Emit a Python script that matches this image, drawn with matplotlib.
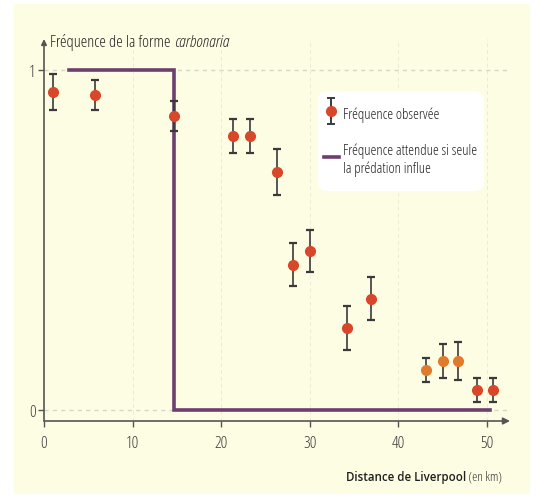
""" plot.py : frequence de la forme carbonaria selon la distance a Liverpool """

import matplotlib
matplotlib.use("Agg")
import matplotlib.pyplot as plt
from matplotlib import font_manager
from matplotlib.patches import Rectangle, FancyBboxPatch
from matplotlib.transforms import IdentityTransform
from matplotlib.lines import Line2D
from matplotlib.path import Path

# look for a narrow font, the original uses a condensed face
fonts = font_manager.fontManager.ttflist
narrow = None
for f in fonts:
    if f.name == 'Liberation Sans Narrow':
        narrow = (f.name, 'normal')
        break
if narrow is None:
    for fam in ['Roboto', 'Open Sans', 'Noto Sans', 'DejaVu Sans']:
        if any(f.name == fam and f.stretch in ('condensed', 'semi-condensed')
               for f in fonts):
            narrow = (fam, 'condensed')
            break

if narrow is not None:
    plt.rcParams['font.family'] = [narrow[0], 'DejaVu Sans']
    plt.rcParams['font.stretch'] = narrow[1]
    scale = 1.0
else:
    plt.rcParams['font.family'] = ['Roboto', 'DejaVu Sans']
    scale = 0.82
plt.rcParams['font.weight'] = 'medium'

distance_km = [1.0, 5.8, 14.7, 21.3, 23.3, 26.3, 28.1, 30.0, 34.2, 36.9,
               43.1, 45.0, 46.7, 48.9, 50.7]
freq_obs = [0.935, 0.926, 0.865, 0.806, 0.806, 0.70, 0.428, 0.468, 0.241,
            0.328, 0.118, 0.144, 0.144, 0.059, 0.059]
freq_err = [0.053, 0.044, 0.044, 0.05, 0.05, 0.069, 0.063, 0.062, 0.065,
            0.063, 0.035, 0.05, 0.056, 0.035, 0.035]
point_colors = ['#d8472a'] * 10 + ['#e27a2e'] * 3 + ['#d8472a'] * 2

# Expected frequency if only predation acts
expected_x = [2.8, 14.7, 14.7, 50.3]
expected_y = [1, 1, 0, 0]

x_ticks = [0, 10, 20, 30, 40, 50]
y_ticks = [0, 1]

legend_labels = ['Fréquence observée',
                 'Fréquence attendue si seule\nla prédation influe']

bg = '#fdfde3'
purple = '#6e3e70'
axis_col = '#555555'
bar_col = '#3a3a3a'
txt_col = '#262626'
W, H = 536, 502

fig = plt.figure(figsize=(W / 100, H / 100), dpi=100)
fig.patch.set_facecolor('white')
# yellow card behind the chart
fig.patches.append(Rectangle((14 / W, 1 - 495 / H), (530 - 14) / W, (495 - 5) / H,
                             transform=fig.transFigure, facecolor=bg,
                             edgecolor='none', zorder=-10))

ax = fig.add_axes([44 / W, 1 - 422 / H, (510 - 44) / W, (422 - 40) / H])
ax.set_zorder(1)
ax.set_facecolor('none')
ax.set_xlim(0, 52.6)
ax.set_ylim(-0.032, 1.091)
for s in ax.spines.values():
    s.set_visible(False)

# grid
for xv in x_ticks[1:]:
    ax.axvline(xv, color='#ececd4', lw=0.7, ls=(0, (4, 3)), zorder=1)
for yv in y_ticks:
    ax.axhline(yv, color='#d6d6c6', lw=1.0, ls=(0, (3, 3)), zorder=1)

# axes with arrows
ax.annotate('', xy=(1.0, 0), xytext=(0, 0), xycoords='axes fraction',
            arrowprops=dict(arrowstyle='-|>', color=axis_col, lw=1.2,
                            mutation_scale=10, shrinkA=0, shrinkB=0))
ax.annotate('', xy=(0, 1.0), xytext=(0, 0), xycoords='axes fraction',
            arrowprops=dict(arrowstyle='-|>', color=axis_col, lw=1.2,
                            mutation_scale=8, shrinkA=0, shrinkB=0))

ax.set_xticks(x_ticks)
ax.set_yticks(y_ticks)
ax.tick_params(axis='both', colors=axis_col, length=4, width=1,
               labelsize=12 * scale, labelcolor='#3a3a3a')
ax.tick_params(axis='x', pad=6)
ax.tick_params(axis='y', pad=2)

# expected line
line, = ax.plot(expected_x, expected_y, color=purple, lw=2.6,
                solid_joinstyle='miter', zorder=3)

# observed points
for i in range(len(distance_km)):
    ax.errorbar(distance_km[i], freq_obs[i], yerr=freq_err[i],
                fmt='o', color=point_colors[i], ms=7,
                ecolor=bar_col, elinewidth=1.2, capsize=3,
                capthick=1.6, zorder=4)

# legend: white rounded card + entries
ax.add_patch(FancyBboxPatch((318, H - 192), 166, 100,
                            boxstyle='round,pad=0,rounding_size=10',
                            transform=IdentityTransform(), facecolor='white',
                            edgecolor='none', zorder=2, clip_on=False))
# errorbar key: vertical bar with caps, dot on top
bar_path = Path([(0, -1), (0, 1), (-0.3, -1), (0.3, -1), (-0.3, 1), (0.3, 1)],
                [Path.MOVETO, Path.LINETO, Path.MOVETO, Path.LINETO,
                 Path.MOVETO, Path.LINETO])
key_bar = Line2D([], [], ls='none', marker=bar_path, ms=19,
                 markeredgecolor=bar_col, markerfacecolor='none', mew=1.4)
key_dot = Line2D([], [], ls='none', marker='o', ms=7, color='#d8472a')
leg = ax.legend(handles=[(key_bar, key_dot), line], labels=legend_labels,
                loc='upper left', bbox_to_anchor=(324 / W, 1 - 104 / H),
                bbox_transform=fig.transFigure, frameon=False,
                fontsize=10.7 * scale, handlelength=1.0, handletextpad=0.3,
                borderpad=0, labelspacing=1.27, borderaxespad=0,
                handleheight=1.8)
for t in leg.get_texts():
    t.set_color(txt_col)

# title of the y axis
t1 = fig.text(50 / W, 1 - 47 / H, 'Fréquence de la forme ',
              fontsize=12 * scale, color=txt_col, va='baseline', ha='left')
fig.canvas.draw()
fig.text(t1.get_window_extent().x1 / W, 1 - 47 / H, 'carbonaria',
         fontsize=12 * scale, style='italic', color=txt_col,
         va='baseline', ha='left')

# x axis label
t2 = fig.text(502 / W, 1 - 481 / H, ' (en km)', fontsize=9.5 * scale,
              color='#333333', va='baseline', ha='right')
fig.canvas.draw()
fig.text(t2.get_window_extent().x0 / W, 1 - 481 / H, 'Distance de Liverpool',
         fontsize=8.3 * scale, fontweight='semibold', color='#1e1e1e',
         va='baseline', ha='right')

fig.savefig('out.png', dpi=100, facecolor='white')
